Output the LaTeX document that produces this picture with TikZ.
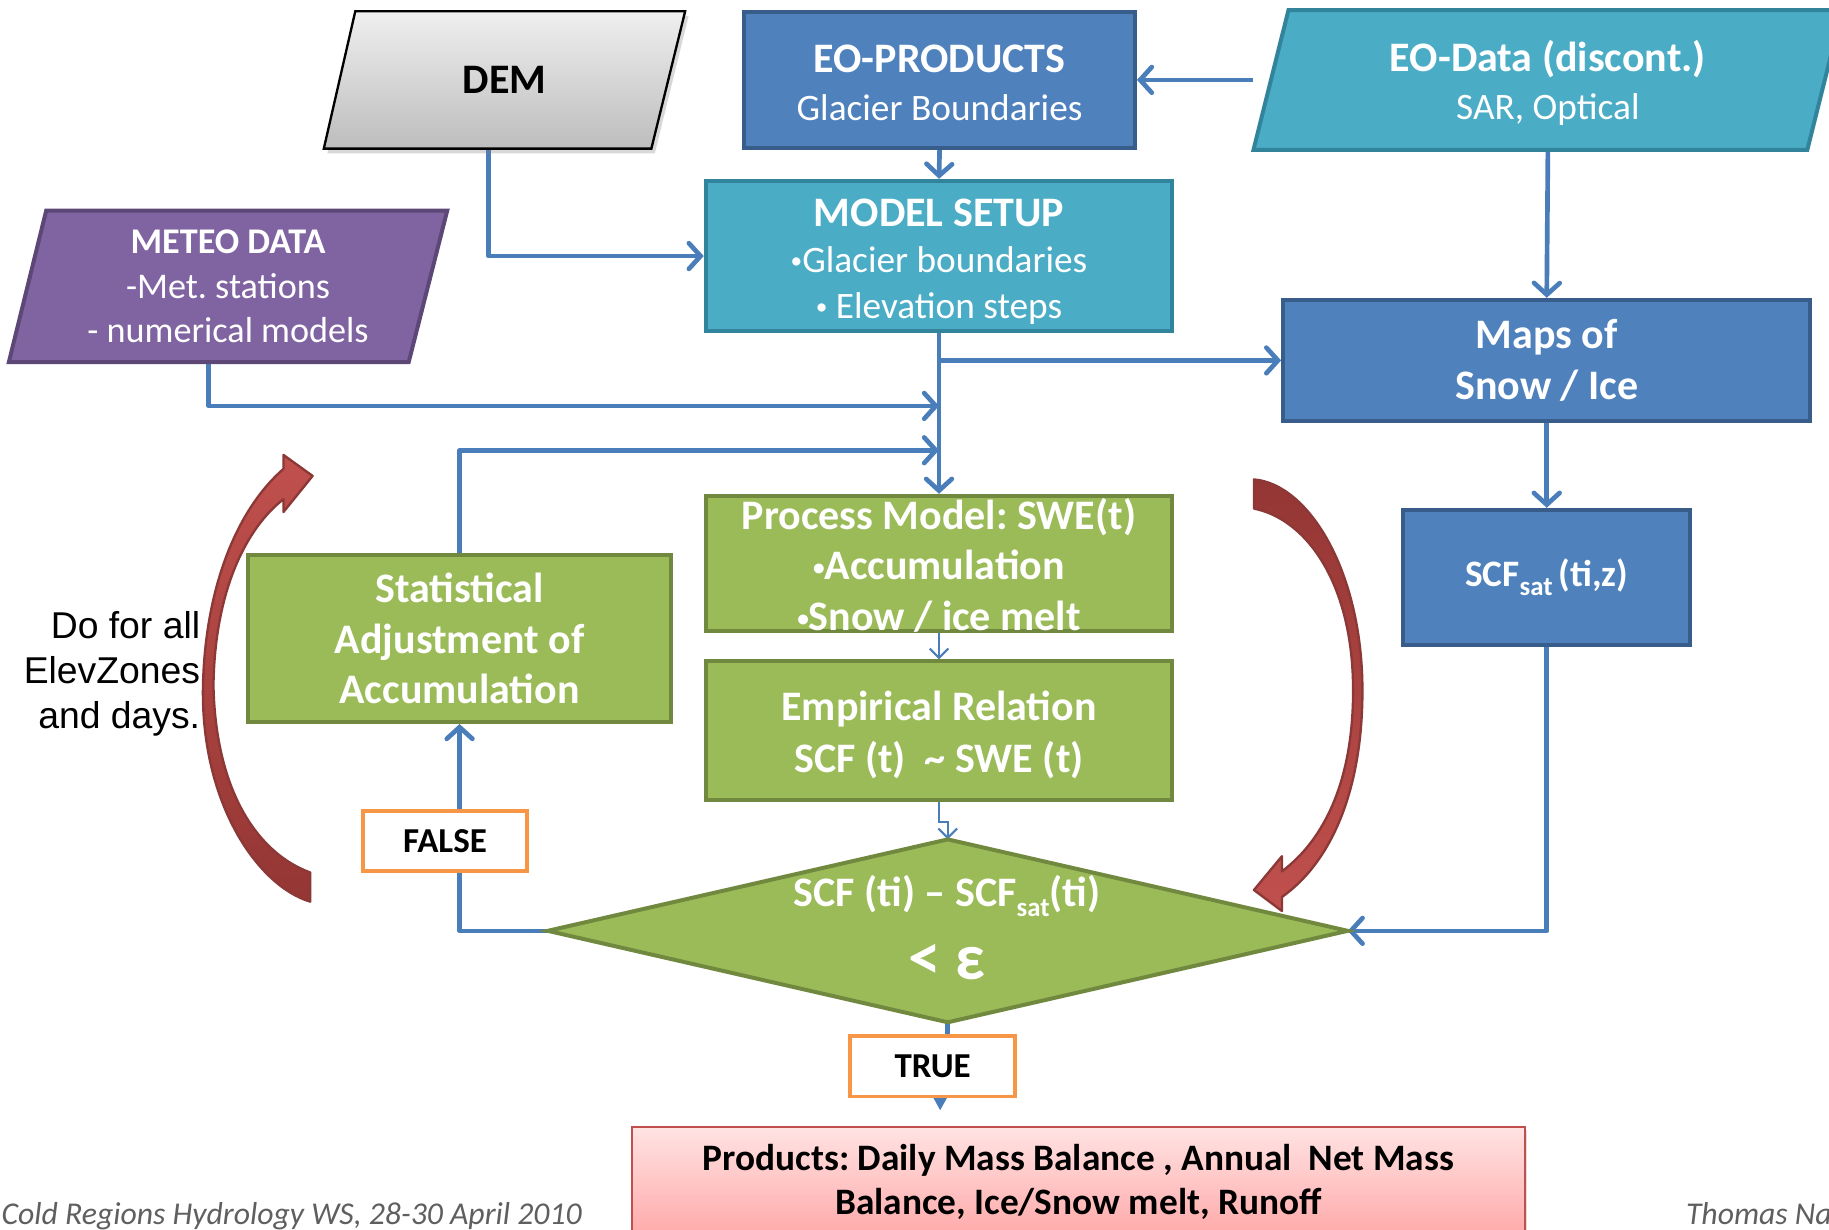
\documentclass[tikz,border=0pt]{standalone}
\usepackage{fontspec}
\setmainfont{Carlito}
\newfontfamily\arialfont{Liberation Sans}
\usetikzlibrary{arrows.meta,calc,backgrounds,shadows}

\definecolor{boxblue}{HTML}{4F81BD}
\definecolor{boxblueD}{HTML}{385D8A}
\definecolor{tealbox}{HTML}{4BACC6}
\definecolor{tealD}{HTML}{31849B}
\definecolor{purp}{HTML}{8064A2}
\definecolor{purpD}{HTML}{5C4776}
\definecolor{grn}{HTML}{9BBB59}
\definecolor{grnD}{HTML}{71893F}
\definecolor{orng}{HTML}{F79646}
\definecolor{cblue}{HTML}{4A7EBB}
\definecolor{redL}{HTML}{C0504D}
\definecolor{redD}{HTML}{943634}
\definecolor{redE}{HTML}{8C3836}
\definecolor{demT}{HTML}{EFEFEF}
\definecolor{demB}{HTML}{BDBDBD}
\definecolor{prodT}{HTML}{FFE3E3}
\definecolor{prodB}{HTML}{FFA9A9}
\definecolor{prodE}{HTML}{C0504D}
\definecolor{footgray}{HTML}{5F5F5F}

\newcommand\subsat{\raisebox{-0.5ex}{\fontsize{11.5}{11.5}\selectfont sat}}
\newcommand\listdot{{\fontsize{10}{10}\selectfont\raisebox{0.35ex}{•}}}
\frenchspacing

\begin{document}
\begin{tikzpicture}[x=0.5pt,y=-0.5pt,
  every node/.style={inner sep=0pt, align=center},
  shapebox/.style={rectangle, line width=1.7pt, text=white},
  bluebox/.style={shapebox, fill=boxblue, draw=boxblueD},
  tealrect/.style={shapebox, fill=tealbox, draw=tealD},
  greenbox/.style={shapebox, fill=grn, draw=grnD},
  whitetext/.style={text=white},
  flagbox/.style={rectangle, fill=white, draw=orng, line width=1.6pt,
    minimum width=70.5pt, minimum height=26pt,
    font=\fontsize{15}{18}\selectfont\bfseries},
  conn/.style={draw=cblue, line width=2pt, line join=round,
    -{Straight Barb[length=5pt,width=11pt,line cap=round]}},
  thinconn/.style={draw=cblue, line width=0.9pt,
    -{Straight Barb[length=4pt,width=8pt]}},
  cyclearrow/.style={draw=redE, line width=1pt, line join=round},
]
\useasboundingbox (0,0) rectangle (1568,1054);
\clip (0,0) rectangle (1568,1054);

% ---- input parallelograms (frames and text; outlines on the background layer)
\node[minimum width=154.5pt, minimum height=58.5pt,
  font=\fontsize{18}{21}\selectfont\bfseries] (dem) at (432.5,68.5) {DEM};
\node[minimum width=252pt, minimum height=59.5pt] (eod) at (1327,68.5) {};
\node[whitetext, font=\fontsize{16}{20.5}\selectfont] (eod-t) at (1327,71)
  {\textbf{\fontsize{18}{20.5}\selectfont EO-Data (discont.)}\\SAR, Optical};
\node[minimum width=187.5pt, minimum height=64.5pt, text=white,
  font=\fontsize{15.5}{19.25}\selectfont] (meteo) at (195.5,245.5)
  {\textbf{METEO DATA}\\-Met. stations\\- numerical models};

% ---- process boxes
\node[bluebox, minimum width=167.5pt, minimum height=58.5pt] (eop) at (805.5,68.5) {};
\node[whitetext, font=\fontsize{16}{20.5}\selectfont] (eop-t) at (805.5,71)
  {\textbf{\fontsize{18}{20.5}\selectfont EO-PRODUCTS}\\Glacier Boundaries};
\node[tealrect, minimum width=200pt, minimum height=64.5pt] (ms) at (805,219.5) {};
\node[whitetext, font=\fontsize{16}{19.75}\selectfont] (ms-t) at (805,224.5)
  {\textbf{\fontsize{18}{19.75}\selectfont MODEL SETUP}\\\listdot Glacier boundaries\\\listdot{} Elevation steps};
\node[bluebox, minimum width=226pt, minimum height=52pt,
  font=\fontsize{18}{21.5}\selectfont\bfseries] (maps) at (1326,309)
  {Maps of\\Snow / Ice};
\node[bluebox, minimum width=123pt, minimum height=58pt,
  font=\fontsize{16}{19}\selectfont\bfseries] (scf) at (1326,495)
  {SCF\subsat\,(ti,z)};
\node[greenbox, minimum width=200pt, minimum height=58pt] (proc) at (805,483) {};
\node[whitetext, font=\fontsize{18}{21.75}\selectfont\bfseries] (proc-t) at (805,484.5)
  {Process Model: SWE(t)\\\listdot Accumulation\\\listdot Snow / ice melt};
\node[greenbox, minimum width=200pt, minimum height=59.5pt] (emp) at (805,626.5) {};
\node[whitetext, font=\fontsize{18}{22}\selectfont\bfseries] (emp-t) at (805,630)
  {Empirical Relation\\SCF (t)\ \ \textasciitilde\ SWE (t)};
\node[greenbox, minimum width=181pt, minimum height=71.5pt,
  font=\fontsize{18}{21.75}\selectfont\bfseries] (stat) at (394,547.5)
  {Statistical\\Adjustment of\\Accumulation};

% ---- decision diamond
\node[minimum width=342.5pt, minimum height=78pt] (dia) at (812.5,798) {};
\path[fill=grn, draw=grnD, line width=1.7pt]
  (dia.west) -- (dia.north) -- (dia.east) -- (dia.south) -- cycle;
\node[whitetext, font=\fontsize{18}{20}\selectfont\bfseries] (dia-a) at (812,768)
  {SCF (ti) -- SCF\subsat(ti)};
\node[whitetext, font=\fontsize{28}{30}\selectfont\bfseries] (dia-b) at (812,825) {< ε};

% ---- branch labels
\node[flagbox] (fl-false) at (381.5,721) {FALSE};
\node[flagbox] (fl-true) at (799.5,914) {TRUE};

% ---- result box
\node[minimum width=382.5pt, minimum height=47pt, top color=prodT, bottom color=prodB,
  draw=prodE, line width=0.8pt,
  drop shadow={opacity=0.25, shadow xshift=1pt, shadow yshift=-1.5pt},
  font=\fontsize{16}{19}\selectfont\bfseries] (prod) at (924.5,1013)
  {Products: Daily Mass Balance , Annual\ \ Net Mass\\Balance, Ice/Snow melt, Runoff};

% ---- side note and footer
\node[anchor=east, align=right, font=\arialfont\fontsize{16}{19.25}\selectfont]
  (note) at (172,578) {Do for all\\ElevZones\\and days.};
\node[anchor=base west, text=footgray, font=\fontsize{13.6}{16}\selectfont\itshape]
  (foot-l) at (1,1050) {Cold Regions Hydrology WS, 28-30 April 2010};
\node[anchor=base west, text=footgray, font=\fontsize{13.6}{16}\selectfont\itshape]
  (foot-r) at (1445,1050) {Thomas Na};

% ---- junctions on the central trunk
\coordinate (jmet) at (805,348);
\coordinate (jstat) at (805,386);
\coordinate (pend) at (806,952);

% ---- iteration arrows
\path[cyclearrow, top color=redL, bottom color=redD]
  (266,748) -- (266,773)
  .. controls (222,760) and (172,690) .. (174,588)
  .. controls (176,500) and (205,435) .. (243,402)
  -- (243,390) -- (268,408) -- (243,439) -- (243,428)
  .. controls (212,452) and (184,505) .. (183,588)
  .. controls (185,680) and (222,732) .. (266,748) -- cycle;
\path[cyclearrow, top color=redD, bottom color=redL]
  (1075,411)
  .. controls (1122,415) and (1168,490) .. (1168,592)
  .. controls (1168,680) and (1140,740) .. (1099,769)
  -- (1099,781) -- (1075,763) -- (1099,734) -- (1099,747)
  .. controls (1135,720) and (1160,670) .. (1160,592)
  .. controls (1160,500) and (1120,445) .. (1075,436) -- cycle;

% ---- connectors and parallelogram outlines
\begin{scope}[on background layer]
  \clip (0,0) rectangle (1568,1054);
  \fill[white] (0,0) rectangle (1568,1054);
  \draw[conn] (eod.west) -- (eop.east);
  \draw[conn] (eop.south) -- (ms.north);
  \draw[conn] ($(dem.south)+(-13.5,0)$) |- (ms.west);
  \draw[conn] (eod.south) -- (maps.north);
  \draw[conn] (ms.south) -- (proc.north);
  \draw[conn] (ms.south |- maps.west) -- (maps.west);
  \draw[conn] ($(meteo.south)+(-16.5,0)$) |- (jmet);
  \draw[conn] (stat.north) |- (jstat);
  \draw[conn] (maps.south) -- (scf.north);
  \draw[conn] (scf.south) |- (dia.east);
  \draw[thinconn] (proc.south) -- (emp.north);
  \draw[thinconn] (emp.south) -- ++(0,17) -| (dia.north);
  \draw[conn] (dia.west) -| (stat.south);
  \draw[conn, -{Triangle[length=6pt,width=6pt]}]
    (dia.south) -- (dia.south |- fl-true.center) -| (pend);

  \path[top color=demT, bottom color=demB, draw=black, line width=1pt,
    drop shadow={opacity=0.3, shadow xshift=1.5pt, shadow yshift=-2pt}]
    (dem.south west) -- ($(dem.north west)+(27,0)$) -- (dem.north east)
    -- ($(dem.south east)+(-29,0)$) -- cycle;
  \path[fill=tealbox, draw=tealD, line width=1.7pt]
    (eod.south west) -- ($(eod.north west)+(30,0)$) -- (eod.north east)
    -- ($(eod.south east)+(-30,0)$) -- cycle;
  \path[fill=purp, draw=purpD, line width=1.7pt]
    (meteo.south west) -- ($(meteo.north west)+(32,0)$) -- (meteo.north east)
    -- ($(meteo.south east)+(-33,0)$) -- cycle;
\end{scope}
\end{tikzpicture}
\end{document}
